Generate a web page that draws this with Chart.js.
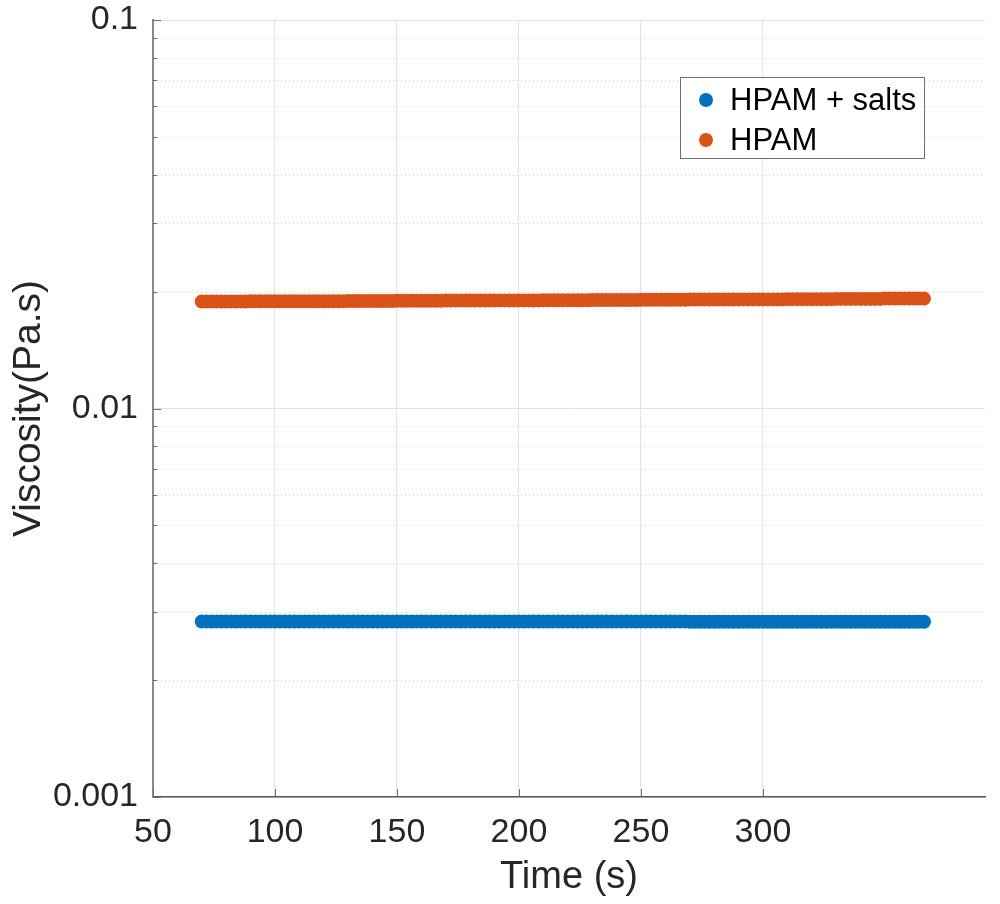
<!DOCTYPE html>
<html>
<head>
<meta charset="utf-8">
<script src="https://cdn.jsdelivr.net/npm/chart.js@4.4.1/dist/chart.umd.min.js"></script>
<style>
  body { margin: 0; background: #fff; }
  #wrap { position: relative; width: 1000px; height: 904px; }
  #legend {
    position: absolute; left: 680px; top: 77px; width: 243px; height: 80px;
    border: 1px solid #6f6f6f; background: #fff;
    font-family: "Liberation Sans", Arial, sans-serif; font-size: 31px; color: #000;
  }
  #legend .row { position: absolute; left: 0; height: 40px; line-height: 40px; white-space: nowrap; }
  #legend .dot { position: absolute; left: 18px; top: 13px; width: 14px; height: 14px; border-radius: 50%; }
  #legend .txt { position: absolute; left: 49px; }
</style>
</head>
<body>
<div id="wrap">
  <canvas id="viscChart" width="1000" height="904"></canvas>
  <div id="legend"></div>
</div>
<script>
// time (s)
const times = [70, 72, 74, 76, 78, 80, 82, 84, 86, 88,
  90, 92, 94, 96, 98, 100, 102, 104, 106, 108,
  110, 112, 114, 116, 118, 120, 122, 124, 126, 128,
  130, 132, 134, 136, 138, 140, 142, 144, 146, 148,
  150, 152, 154, 156, 158, 160, 162, 164, 166, 168,
  170, 172, 174, 176, 178, 180, 182, 184, 186, 188,
  190, 192, 194, 196, 198, 200, 202, 204, 206, 208,
  210, 212, 214, 216, 218, 220, 222, 224, 226, 228,
  230, 232, 234, 236, 238, 240, 242, 244, 246, 248,
  250, 252, 254, 256, 258, 260, 262, 264, 266, 268,
  270, 272, 274, 276, 278, 280, 282, 284, 286, 288,
  290, 292, 294, 296, 298, 300, 302, 304, 306, 308,
  310, 312, 314, 316, 318, 320, 322, 324, 326, 328,
  330, 332, 334, 336, 338, 340, 342, 344, 346, 348,
  350, 352, 354, 356, 358, 360, 362, 364, 366];

// viscosity (Pa.s)
const hpamSalts = [0.00283, 0.00283, 0.00283, 0.00283, 0.00283, 0.00283, 0.00283, 0.00283, 0.00283, 0.00283,
  0.00283, 0.00283, 0.00283, 0.00283, 0.00283, 0.00283, 0.00283, 0.00283, 0.00283, 0.00283,
  0.00283, 0.00283, 0.00283, 0.00283, 0.00283, 0.00283, 0.00283, 0.00283, 0.00283, 0.00283,
  0.00283, 0.00283, 0.00283, 0.00283, 0.00283, 0.00283, 0.00283, 0.00283, 0.00283, 0.00283,
  0.00283, 0.00283, 0.00283, 0.00283, 0.00283, 0.00283, 0.00283, 0.00283, 0.00283, 0.00283,
  0.00283, 0.00283, 0.00283, 0.00283, 0.00283, 0.00283, 0.00283, 0.00283, 0.00283, 0.00283,
  0.00283, 0.00283, 0.00283, 0.00283, 0.00283, 0.00283, 0.00283, 0.00283, 0.00283, 0.00283,
  0.00283, 0.00283, 0.00283, 0.00283, 0.00283, 0.00283, 0.00283, 0.00283, 0.00283, 0.00283,
  0.00283, 0.00283, 0.00283, 0.00283, 0.00283, 0.00283, 0.00283, 0.00283, 0.00283, 0.00283,
  0.00283, 0.00283, 0.00283, 0.00283, 0.00283, 0.00283, 0.00283, 0.00283, 0.00283, 0.00283,
  0.002825, 0.002825, 0.002825, 0.002825, 0.002825, 0.002825, 0.002825, 0.002825, 0.002825, 0.002825,
  0.002825, 0.002825, 0.002825, 0.002825, 0.002825, 0.002825, 0.002825, 0.002825, 0.002825, 0.002825,
  0.002825, 0.002825, 0.002825, 0.002825, 0.002825, 0.002825, 0.002825, 0.002825, 0.002825, 0.002825,
  0.002825, 0.002825, 0.002825, 0.002825, 0.002825, 0.002825, 0.002825, 0.002825, 0.002825, 0.002825,
  0.002825, 0.002825, 0.002825, 0.002825, 0.002825, 0.002825, 0.002825, 0.002825, 0.002825];
const hpam = [0.01885, 0.01885, 0.01885, 0.01885, 0.01885, 0.01885, 0.01885, 0.01885, 0.01885, 0.01885,
  0.01887, 0.01887, 0.01887, 0.01887, 0.01887, 0.01887, 0.01887, 0.01887, 0.01887, 0.01887,
  0.01889, 0.01889, 0.01889, 0.01889, 0.01889, 0.01889, 0.01889, 0.01889, 0.01889, 0.01889,
  0.01891, 0.01891, 0.01891, 0.01891, 0.01891, 0.01891, 0.01891, 0.01891, 0.01891, 0.01891,
  0.01893, 0.01893, 0.01893, 0.01893, 0.01893, 0.01893, 0.01893, 0.01893, 0.01893, 0.01893,
  0.01896, 0.01896, 0.01896, 0.01896, 0.01896, 0.01896, 0.01896, 0.01896, 0.01896, 0.01896,
  0.01898, 0.01898, 0.01898, 0.01898, 0.01898, 0.01898, 0.01898, 0.01898, 0.01898, 0.01898,
  0.019, 0.019, 0.019, 0.019, 0.019, 0.019, 0.019, 0.019, 0.019, 0.019,
  0.01902, 0.01902, 0.01902, 0.01902, 0.01902, 0.01902, 0.01902, 0.01902, 0.01902, 0.01902,
  0.01905, 0.01905, 0.01905, 0.01905, 0.01905, 0.01905, 0.01905, 0.01905, 0.01905, 0.01905,
  0.01907, 0.01907, 0.01907, 0.01907, 0.01907, 0.01907, 0.01907, 0.01907, 0.01907, 0.01907,
  0.01909, 0.01909, 0.01909, 0.01909, 0.01909, 0.01909, 0.01909, 0.01909, 0.01909, 0.01909,
  0.01912, 0.01912, 0.01912, 0.01912, 0.01912, 0.01912, 0.01912, 0.01912, 0.01912, 0.01912,
  0.01915, 0.01915, 0.01915, 0.01915, 0.01915, 0.01915, 0.01915, 0.01915, 0.01915, 0.01915,
  0.01918, 0.01918, 0.01918, 0.01918, 0.01918, 0.01918, 0.01918, 0.01918, 0.01918];

const seriesLabels = ["HPAM + salts", "HPAM"];
const seriesColors = ["#0072BD", "#D95319"];

const xTicks = [50, 100, 150, 200, 250, 300];
const yMajorTicks = [0.001, 0.01, 0.1];
const yMinorTicks = [0.002, 0.003, 0.004, 0.005, 0.006, 0.007, 0.008, 0.009,
  0.02, 0.03, 0.04, 0.05, 0.06, 0.07, 0.08, 0.09];

const FONT = "'Liberation Sans', Arial, sans-serif";

// dotted minor grid + inward tick marks, matlab style
const minorGrid = {
  id: "minorGrid",
  beforeDatasetsDraw(chart) {
    const { ctx, chartArea, scales } = chart;
    ctx.save();
    ctx.strokeStyle = "#d4d4d4";
    ctx.lineWidth = 1;
    ctx.setLineDash([1, 3]);
    yMinorTicks.forEach((v) => {
      const y = Math.round(scales.y.getPixelForValue(v)) + 0.5;
      ctx.beginPath();
      ctx.moveTo(chartArea.left, y);
      ctx.lineTo(chartArea.right, y);
      ctx.stroke();
    });
    ctx.setLineDash([]);
    ctx.strokeStyle = "#6e6e6e";
    yMinorTicks.forEach((v) => {
      const y = Math.round(scales.y.getPixelForValue(v)) + 0.5;
      ctx.beginPath();
      ctx.moveTo(chartArea.left, y);
      ctx.lineTo(chartArea.left + 4, y);
      ctx.stroke();
    });
    yMajorTicks.forEach((v) => {
      const y = Math.round(scales.y.getPixelForValue(v)) + 0.5;
      ctx.beginPath();
      ctx.moveTo(chartArea.left, y);
      ctx.lineTo(chartArea.left + 8, y);
      ctx.stroke();
    });
    xTicks.forEach((v) => {
      const x = Math.round(scales.x.getPixelForValue(v)) + 0.5;
      ctx.beginPath();
      ctx.moveTo(x, chartArea.bottom);
      ctx.lineTo(x, chartArea.bottom - 8);
      ctx.stroke();
    });
    ctx.restore();
  },
};

const toPoints = (ys) => times.map((t, i) => ({ x: t, y: ys[i] }));

new Chart(document.getElementById("viscChart"), {
  type: "scatter",
  data: {
    datasets: [
      {
        label: seriesLabels[0],
        data: toPoints(hpamSalts),
        backgroundColor: seriesColors[0],
        borderWidth: 0,
        pointRadius: 7,
      },
      {
        label: seriesLabels[1],
        data: toPoints(hpam),
        backgroundColor: seriesColors[1],
        borderWidth: 0,
        pointRadius: 7,
      },
    ],
  },
  options: {
    responsive: false,
    animation: false,
    layout: { padding: { top: 20, right: 15, left: 0, bottom: 0 } },
    plugins: { legend: { display: false }, tooltip: { enabled: false } },
    scales: {
      x: {
        type: "linear",
        min: 50,
        max: 391,
        afterBuildTicks: (scale) => { scale.ticks = xTicks.map((v) => ({ value: v })); },
        afterFit: (scale) => { scale.height = 107; scale.paddingLeft = 0; scale.paddingRight = 0; },
        grid: { color: "#e3e3e3", drawTicks: false },
        border: { color: "#5a5a5a", width: 1.5 },
        ticks: { color: "#262626", font: { family: FONT, size: 34 }, padding: 15, maxRotation: 0 },
        title: {
          display: true,
          text: "Time (s)",
          color: "#262626",
          font: { family: FONT, size: 38 },
          padding: { top: 0, bottom: 4 },
        },
      },
      y: {
        type: "logarithmic",
        min: 0.001,
        max: 0.1,
        afterBuildTicks: (scale) => { scale.ticks = yMajorTicks.map((v) => ({ value: v })); },
        afterFit: (scale) => { scale.width = 153; scale.paddingTop = 0; scale.paddingBottom = 0; },
        grid: { color: "#e3e3e3", drawTicks: false },
        border: { color: "#8a8a8a", width: 2 },
        ticks: {
          color: "#262626",
          font: { family: FONT, size: 34 },
          padding: 15,
          callback: (v) => String(v),
        },
        title: {
          display: true,
          text: "Viscosity(Pa.s)",
          color: "#262626",
          font: { family: FONT, size: 39 },
          padding: { top: 6, bottom: 0 },
        },
      },
    },
  },
  plugins: [minorGrid],
});

// legend box
const legend = document.getElementById("legend");
seriesLabels.forEach((name, i) => {
  const row = document.createElement("div");
  row.className = "row";
  row.style.top = 2 + i * 40 + "px";
  row.innerHTML = '<span class="dot" style="background:' + seriesColors[i] + '"></span><span class="txt">' + name + "</span>";
  legend.appendChild(row);
});
</script>
</body>
</html>
